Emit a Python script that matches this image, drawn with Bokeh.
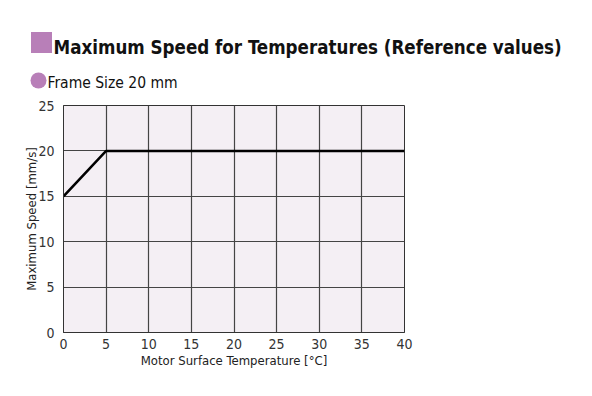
from bokeh.plotting import figure
from bokeh.layouts import column
from bokeh.models import Range1d, FixedTicker
from bokeh.core.properties import value
from bokeh.embed import file_html
from bokeh.resources import INLINE

temps = [0, 5, 40]
speeds = [15, 20, 20]
x_ticks = [0, 5, 10, 15, 20, 25, 30, 35, 40]
y_ticks = [0, 5, 10, 15, 20, 25]
title_text = "Maximum Speed for Temperatures (Reference values)"
subtitle_text = "Frame Size 20 mm"
x_label = "Motor Surface Temperature [°C]"
y_label = "Maximum Speed [mm/s]"

FONT = "'DejaVu Sans Condensed', 'Liberation Sans Narrow', Roboto, sans-serif"
PINK = "#b87fb8"
W = 576

# ---- header (title + subtitle) drawn in pixel-like coordinates ----
hdr = figure(width=W, height=97, output_backend="svg", toolbar_location=None,
             x_range=Range1d(0, W), y_range=Range1d(97, 0),
             min_border=0, outline_line_color=None)
hdr.frame_align = False
hdr.axis.visible = False
hdr.grid.visible = False
hdr.background_fill_color = "white"
hdr.border_fill_color = "white"
hdr.scatter([41], [42], marker="square", size=21, fill_color=PINK, line_color=None)
hdr.scatter([38], [80], marker="circle", size=16, fill_color=PINK, line_color=None)
hdr.text([53], [47], text=[title_text], text_font=value(FONT), text_font_style="bold",
         text_font_size="18.6px", text_color="#111111", text_baseline="alphabetic")
hdr.text([47], [82.5], text=[subtitle_text], text_font=value(FONT),
         text_font_size="15.5px", text_color="#111111", text_baseline="alphabetic")

# ---- main chart ----
p = figure(width=W, height=283, output_backend="svg", toolbar_location=None,
           x_range=Range1d(0, 40), y_range=Range1d(0, 25),
           min_border_left=63, min_border_right=172, min_border_top=8, min_border_bottom=48)
p.frame_align = False
p.background_fill_color = "#f4eff4"
p.border_fill_color = "white"
p.outline_line_color = "#333333"
p.outline_line_width = 1

for ax in (p.xaxis[0], p.yaxis[0]):
    ax.major_tick_line_color = None
    ax.minor_tick_line_color = None
    ax.axis_line_color = "#333333"
    ax.major_label_text_font = FONT
    ax.major_label_text_font_size = "14px"
    ax.major_label_text_color = "#333333"
    ax.axis_label_text_font = FONT
    ax.axis_label_text_font_size = "13px"
    ax.axis_label_text_font_style = "normal"
    ax.axis_label_text_color = "#222222"
p.xaxis.major_label_standoff = 0
p.yaxis.major_label_standoff = 3
p.xaxis.ticker = FixedTicker(ticks=x_ticks)
p.yaxis.ticker = FixedTicker(ticks=y_ticks)
p.xaxis.axis_label = x_label
p.yaxis.axis_label = y_label
p.xaxis.axis_label_standoff = 1
p.yaxis.axis_label_standoff = -4

p.xgrid.ticker = FixedTicker(ticks=x_ticks)
p.ygrid.ticker = FixedTicker(ticks=y_ticks)
p.grid.grid_line_color = "#444444"
p.grid.grid_line_width = 1.2

p.line(temps, speeds, line_color="black", line_width=2.5)

layout = column(hdr, p, spacing=0)
open("out.html", "w").write(file_html(layout, INLINE))
